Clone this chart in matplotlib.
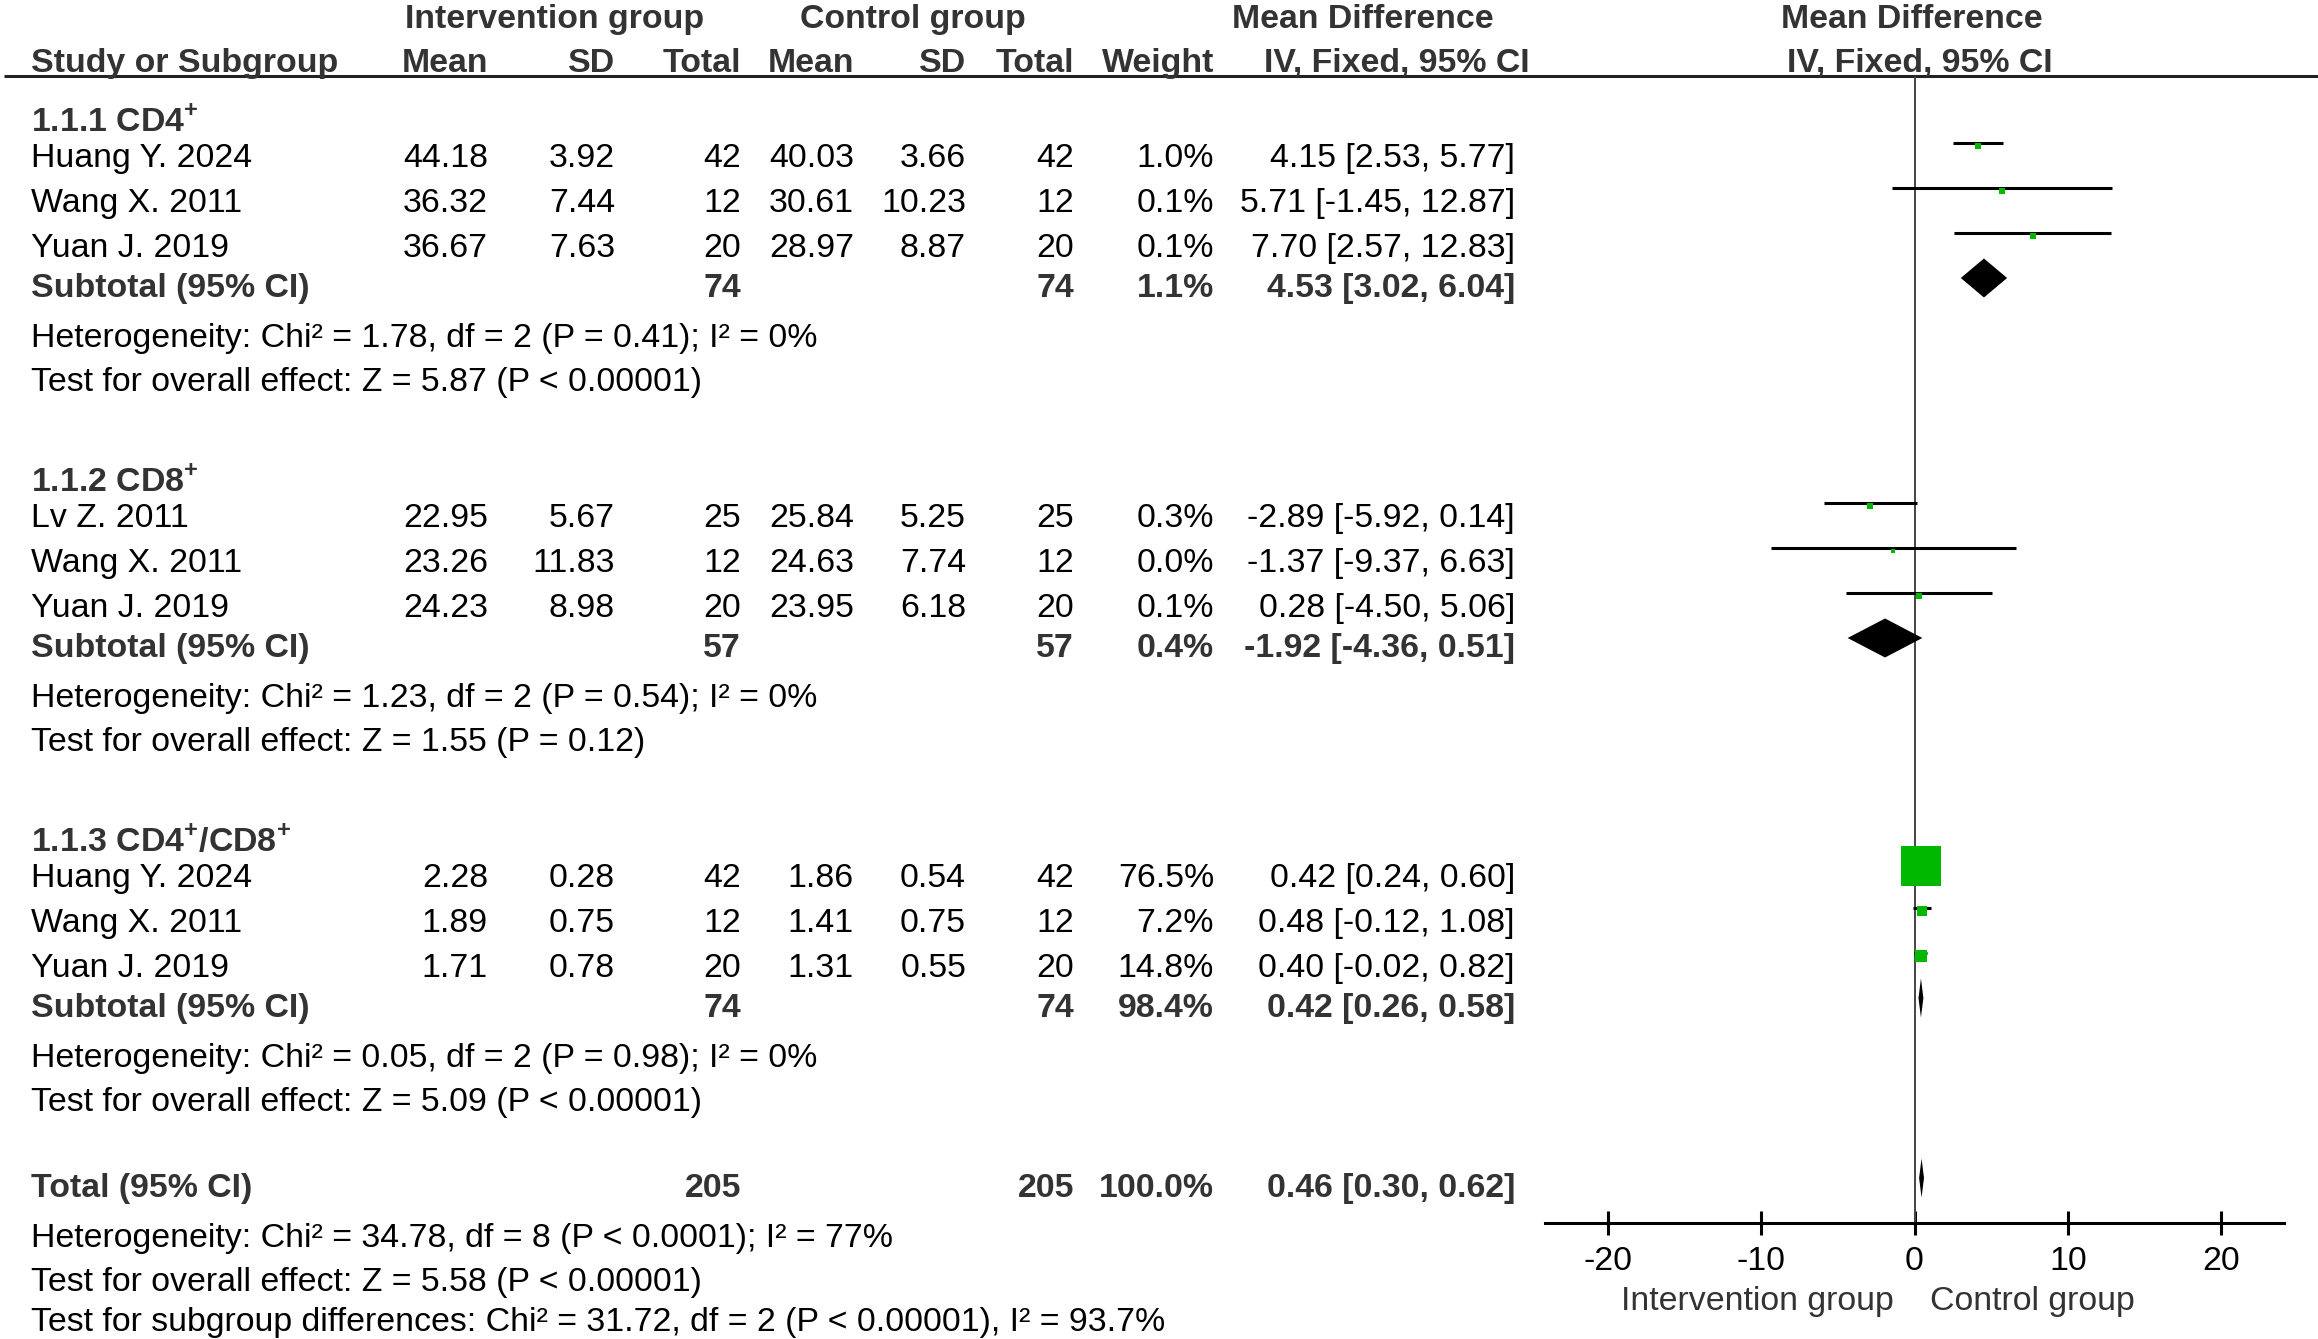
import matplotlib
matplotlib.use('Agg')
import matplotlib.pyplot as plt

plt.rcParams['font.family'] = ['Liberation Sans', 'DejaVu Sans']
plt.rcParams['axes.unicode_minus'] = False
plt.rcParams['mathtext.fontset'] = 'custom'
plt.rcParams['mathtext.rm'] = 'Liberation Sans:bold'
plt.rcParams['mathtext.bf'] = 'Liberation Sans:bold'

### DATA ###
subgroups = ['1.1.1 CD4$^{+}$', '1.1.2 CD8$^{+}$', '1.1.3 CD4$^{+}$/CD8$^{+}$']
study_names = [['Huang Y. 2024', 'Wang X. 2011', 'Yuan J. 2019'],
               ['Lv Z. 2011', 'Wang X. 2011', 'Yuan J. 2019'],
               ['Huang Y. 2024', 'Wang X. 2011', 'Yuan J. 2019']]
int_mean = [[44.18, 36.32, 36.67], [22.95, 23.26, 24.23], [2.28, 1.89, 1.71]]
int_sd = [[3.92, 7.44, 7.63], [5.67, 11.83, 8.98], [0.28, 0.75, 0.78]]
int_n = [[42, 12, 20], [25, 12, 20], [42, 12, 20]]
ctl_mean = [[40.03, 30.61, 28.97], [25.84, 24.63, 23.95], [1.86, 1.41, 1.31]]
ctl_sd = [[3.66, 10.23, 8.87], [5.25, 7.74, 6.18], [0.54, 0.75, 0.55]]
ctl_n = [[42, 12, 20], [25, 12, 20], [42, 12, 20]]
weights = [[1.0, 0.1, 0.1], [0.3, 0.0, 0.1], [76.5, 7.2, 14.8]]
md = [[4.15, 5.71, 7.70], [-2.89, -1.37, 0.28], [0.42, 0.48, 0.40]]
ci_lo = [[2.53, -1.45, 2.57], [-5.92, -9.37, -4.50], [0.24, -0.12, -0.02]]
ci_hi = [[5.77, 12.87, 12.83], [0.14, 6.63, 5.06], [0.60, 1.08, 0.82]]

sub_int_n = [74, 57, 74]
sub_ctl_n = [74, 57, 74]
sub_weight = [1.1, 0.4, 98.4]
sub_md = [4.53, -1.92, 0.42]
sub_lo = [3.02, -4.36, 0.26]
sub_hi = [6.04, 0.51, 0.58]
sub_het = ['Heterogeneity: Chi² = 1.78, df = 2 (P = 0.41); I² = 0%',
           'Heterogeneity: Chi² = 1.23, df = 2 (P = 0.54); I² = 0%',
           'Heterogeneity: Chi² = 0.05, df = 2 (P = 0.98); I² = 0%']
sub_test = ['Test for overall effect: Z = 5.87 (P < 0.00001)',
            'Test for overall effect: Z = 1.55 (P = 0.12)',
            'Test for overall effect: Z = 5.09 (P < 0.00001)']

total_int_n = 205
total_ctl_n = 205
total_weight = 100.0
total_md = 0.46
total_lo = 0.30
total_hi = 0.62
total_notes = ['Heterogeneity: Chi² = 34.78, df = 8 (P < 0.0001); I² = 77%',
               'Test for overall effect: Z = 5.58 (P < 0.00001)',
               'Test for subgroup differences: Chi² = 31.72, df = 2 (P < 0.00001), I² = 93.7%']

xticks = [-20, -10, 0, 10, 20]

### LAYOUT (pixel rows / columns) ###
W, H = 2318, 1339
FS = 24.4
BOLDC = '#333333'
GREEN = '#00B800'
section_base = [132, 492, 852]
study_off = [35, 80, 125]
note_rows = [1247, 1291, 1331]
col_x = [488, 615, 741, 854, 966, 1074, 1214, 1515]   # right edges of numeric columns
axis_y, top_y = 1223, 76

fig = plt.figure(figsize=(W / 100, H / 100), dpi=100)
bg = fig.add_axes([0, 0, 1, 1])
bg.set_xlim(0, W)
bg.set_ylim(H, 0)
bg.axis('off')

fa = fig.add_axes([1545 / W, (H - axis_y) / H, (2284 - 1545) / W, (axis_y - top_y) / H])
fa.set_facecolor('none')
fa.set_xlim(-24.1, 24.1)
fa.set_ylim(axis_y, top_y)


def txt(x, y, s, ha='left', bold=False, color=None):
    bg.text(x, y, s, ha=ha, va='baseline', fontsize=FS,
            fontweight='bold' if bold else 'normal',
            color=color if color else (BOLDC if bold else 'black'))


# headers
txt(555, 28, 'Intervention group', ha='center', bold=True)
txt(913, 28, 'Control group', ha='center', bold=True)
txt(1363, 28, 'Mean Difference', ha='center', bold=True)
txt(1912, 28, 'Mean Difference', ha='center', bold=True)
txt(31, 72, 'Study or Subgroup', bold=True)
for x, s in zip(col_x[:7], ['Mean', 'SD', 'Total', 'Mean', 'SD', 'Total', 'Weight']):
    txt(x, 72, s, ha='right', bold=True)
txt(1397, 72, 'IV, Fixed, 95% CI', ha='center', bold=True)
txt(1920, 72, 'IV, Fixed, 95% CI', ha='center', bold=True)
bg.hlines(top_y, 4, W, color='#222222', lw=2.2)


def sq_side(w):
    return 5 + 0.69 * w ** 0.9


for g in range(len(subgroups)):
    base = section_base[g]
    txt(31, base, subgroups[g], bold=True)
    for i in range(len(study_names[g])):
        y = base + study_off[i]
        vals = ['%.2f' % int_mean[g][i], '%.2f' % int_sd[g][i], '%d' % int_n[g][i],
                '%.2f' % ctl_mean[g][i], '%.2f' % ctl_sd[g][i], '%d' % ctl_n[g][i],
                '%.1f%%' % weights[g][i],
                '%.2f [%.2f, %.2f]' % (md[g][i], ci_lo[g][i], ci_hi[g][i])]
        txt(31, y, study_names[g][i])
        for x, s in zip(col_x, vals):
            txt(x, y, s, ha='right')
        fa.plot([ci_lo[g][i], ci_hi[g][i]], [y - 24, y - 24], color='black', lw=2.2,
                solid_capstyle='butt', zorder=3)
        fa.plot(md[g][i], y - 21, marker='s', color=GREEN, mew=0,
                markersize=sq_side(weights[g][i]) * 0.72, zorder=4)
    ys = base + 165
    txt(31, ys, 'Subtotal (95% CI)', bold=True)
    txt(col_x[2], ys, '%d' % sub_int_n[g], ha='right', bold=True)
    txt(col_x[5], ys, '%d' % sub_ctl_n[g], ha='right', bold=True)
    txt(col_x[6], ys, '%.1f%%' % sub_weight[g], ha='right', bold=True)
    txt(col_x[7], ys, '%.2f [%.2f, %.2f]' % (sub_md[g], sub_lo[g], sub_hi[g]), ha='right', bold=True)
    yc = ys - 19
    fa.fill([sub_lo[g], sub_md[g], sub_hi[g], sub_md[g]], [yc, yc - 19.5, yc, yc + 19.5],
            color='black', lw=0, zorder=4)
    txt(31, base + 215, sub_het[g])
    txt(31, base + 259, sub_test[g])

# overall
yt = 1197
txt(31, yt, 'Total (95% CI)', bold=True)
txt(col_x[2], yt, '%d' % total_int_n, ha='right', bold=True)
txt(col_x[5], yt, '%d' % total_ctl_n, ha='right', bold=True)
txt(col_x[6], yt, '%.1f%%' % total_weight, ha='right', bold=True)
txt(col_x[7], yt, '%.2f [%.2f, %.2f]' % (total_md, total_lo, total_hi), ha='right', bold=True)
yc = yt - 19
fa.fill([total_lo, total_md, total_hi, total_md], [yc, yc - 19.5, yc, yc + 19.5],
        color='black', lw=0, zorder=4)
for k, s in enumerate(total_notes):
    txt(31, note_rows[k], s)

# forest axis
fa.axvline(0, color='#444444', lw=1.4, zorder=2)
for side in ['left', 'right', 'top']:
    fa.spines[side].set_visible(False)
fa.spines['bottom'].set_linewidth(2.2)
fa.set_yticks([])
fa.set_xticks(xticks)
fa.set_xticklabels([str(t) for t in xticks])
fa.tick_params(axis='x', direction='inout', length=17, width=2.2, pad=8, labelsize=FS)
txt(1894, 1310, 'Intervention group', ha='right', color=BOLDC)
txt(1930, 1310, 'Control group', color=BOLDC)

fig.savefig('out.png', dpi=100)
